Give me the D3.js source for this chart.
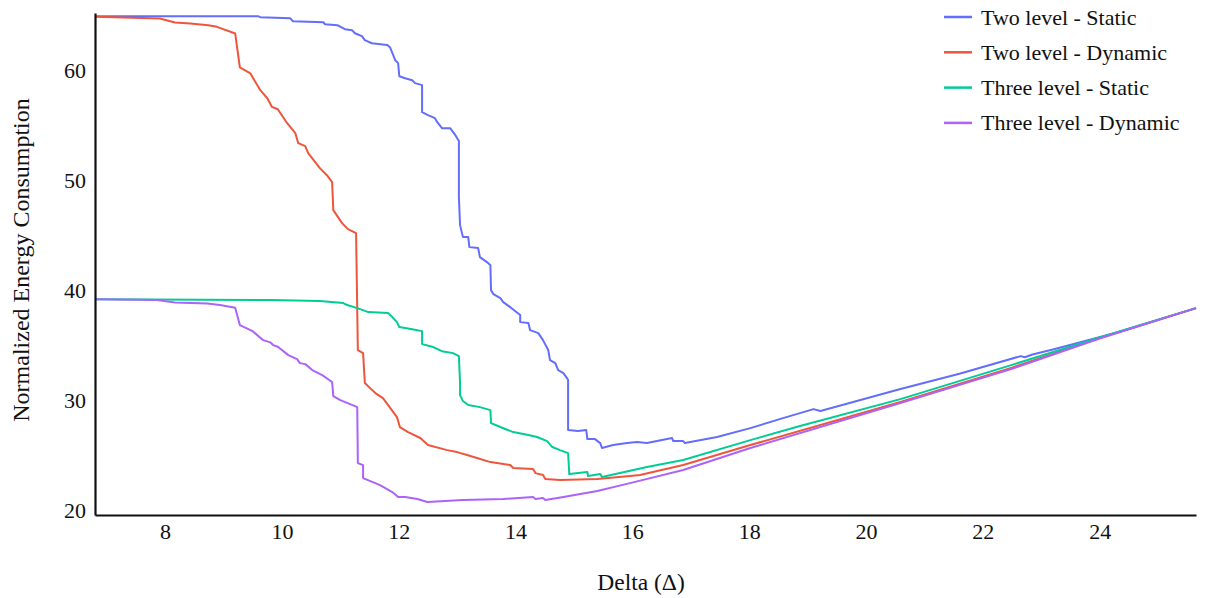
<!DOCTYPE html>
<html>
<head>
<meta charset="utf-8">
<script src="https://cdn.jsdelivr.net/npm/d3@7"></script>
<style>
  body { margin: 0; background: #fff; }
  text { font-family: "Liberation Serif", "Times New Roman", serif; }
</style>
</head>
<body>
<div id="chart"></div>
<script>
const WIDTH = 1205, HEIGHT = 598;
const margin = {top: 13, right: 9, bottom: 83, left: 95};

var seriesNames = ["Two level - Static", "Two level - Dynamic", "Three level - Static", "Three level - Dynamic"];
var seriesColors = ["#636efa", "#EF553B", "#00cc96", "#ab63fa"];
var xTicks = [8, 10, 12, 14, 16, 18, 20, 22, 24];
var yTicks = [20, 30, 40, 50, 60];

// [delta, energy]
var twoLevelStatic = [[6.80,64.91],[9.59,64.91],[9.63,64.82],[10.14,64.73],[10.19,64.45],[10.71,64.36],[10.74,64.18],
  [10.95,64.09],[11.08,63.73],[11.20,63.64],[11.25,63.36],[11.37,63.09],[11.42,62.73],[11.54,62.45],[11.80,62.3],
  [11.85,62.09],[11.94,60.91],[11.99,60.64],[12.01,59.45],[12.11,59.27],[12.23,59.09],[12.28,58.82],[12.40,58.64],
  [12.40,56.18],[12.50,55.91],[12.62,55.64],[12.66,55.27],[12.74,54.73],[12.88,54.73],[12.97,54.09],[13.03,53.55],
  [13.03,48.45],[13.05,45.91],[13.10,44.82],[13.19,44.82],[13.21,43.91],[13.36,43.82],[13.39,43.0],[13.51,42.55],
  [13.57,42.27],[13.58,40.0],[13.62,39.64],[13.74,39.27],[13.79,38.91],[13.91,38.45],[14.08,37.73],[14.08,37.09],
  [14.22,37.0],[14.25,36.36],[14.39,36.09],[14.47,35.45],[14.56,34.55],[14.59,33.64],[14.68,33.36],[14.73,32.73],
  [14.82,32.45],[14.88,32.0],[14.90,31.82],[14.90,27.27],[15.07,27.18],[15.21,27.27],[15.23,26.45],[15.36,26.45],
  [15.45,26.09],[15.48,25.64],[15.67,25.91],[15.91,26.09],[16.08,26.18],[16.25,26.09],[16.68,26.55],[16.70,26.27],
  [16.87,26.27],[16.90,26.09],[17.45,26.64],[18.02,27.45],[18.58,28.36],[19.10,29.18],[19.22,29.0],[20.59,31.0],
  [21.6,32.4],[22.65,34.0],[22.72,33.9],[22.85,34.15],[23.2,34.6],[24.3,36.15],[25.65,38.36]];

var twoLevelDynamic = [[6.80,64.85],[7.91,64.7],[8.17,64.34],[8.43,64.25],[8.74,64.09],[8.89,63.94],[9.20,63.34],
  [9.28,60.25],[9.46,59.7],[9.63,58.18],[9.75,57.45],[9.83,56.66],[9.93,56.45],[10.09,55.18],[10.23,54.27],
  [10.28,53.36],[10.40,53.09],[10.45,52.45],[10.65,51.09],[10.77,50.45],[10.86,49.82],[10.88,47.27],[11.03,46.09],
  [11.13,45.55],[11.27,45.18],[11.30,34.55],[11.39,34.27],[11.42,31.55],[11.51,31.09],[11.60,30.64],[11.73,30.18],
  [11.97,28.45],[12.02,27.55],[12.16,27.09],[12.37,26.55],[12.50,25.91],[12.83,25.45],[13.0,25.27],[13.17,25.0],
  [13.34,24.73],[13.57,24.36],[13.91,24.09],[13.96,23.82],[14.30,23.73],[14.34,23.36],[14.47,23.18],[14.51,22.82],
  [14.76,22.73],[15.40,22.82],[15.96,23.09],[16.13,23.18],[16.87,24.09],[18.02,25.91],[20.59,29.82],[22.5,32.95],
  [24.0,35.65],[25.65,38.36]];

var threeLevelStatic = [[6.80,39.18],[9.80,39.09],[10.65,39.0],[11.05,38.82],[11.12,38.64],[11.29,38.36],[11.48,38.0],
  [11.82,37.91],[11.89,37.55],[11.97,37.09],[12.01,36.64],[12.23,36.45],[12.40,36.27],[12.40,35.09],[12.59,34.82],
  [12.74,34.45],[12.93,34.27],[13.03,34.0],[13.05,31.55],[13.05,30.45],[13.10,29.91],[13.19,29.55],[13.39,29.36],
  [13.57,29.09],[13.58,27.91],[13.74,27.55],[13.96,27.09],[14.22,26.82],[14.37,26.64],[14.54,26.27],[14.63,25.73],
  [14.76,25.45],[14.90,25.18],[14.92,23.27],[15.23,23.45],[15.24,23.09],[15.45,23.27],[15.48,23.0],[16.25,23.91],
  [16.87,24.55],[18.02,26.36],[18.87,27.64],[20.59,30.09],[22.5,33.2],[24.0,35.7],[25.65,38.36]];

var threeLevelDynamic = [[6.80,39.18],[7.86,39.09],[8.17,38.88],[8.72,38.79],[8.94,38.64],[9.20,38.39],[9.28,36.82],
  [9.49,36.30],[9.68,35.45],[9.80,35.25],[9.85,35.0],[9.93,34.85],[10.11,34.09],[10.26,33.73],[10.31,33.36],
  [10.40,33.27],[10.52,32.73],[10.69,32.27],[10.86,31.64],[10.88,30.36],[11.0,30.0],[11.25,29.45],[11.29,29.36],
  [11.30,24.27],[11.39,24.09],[11.39,22.91],[11.68,22.27],[11.89,21.64],[11.99,21.18],[12.11,21.18],[12.32,21.0],
  [12.49,20.73],[13.10,20.91],[13.79,21.0],[14.30,21.18],[14.34,21.0],[14.47,21.09],[14.51,20.91],[14.82,21.18],
  [15.40,21.73],[15.96,22.45],[16.87,23.64],[18.02,25.64],[20.59,29.73],[22.5,32.85],[24.0,35.6],[25.65,38.36]];

var allSeries = [twoLevelStatic, twoLevelDynamic, threeLevelStatic, threeLevelDynamic];

let svg = d3.select("#chart")
    .append("svg")
    .attr("width", WIDTH)
    .attr("height", HEIGHT);

let x = d3.scaleLinear()
    .domain([6.8, 25.65])
    .range([margin.left, WIDTH - margin.right]);

let y = d3.scaleLinear()
    .domain([19.55, 65.2])
    .range([HEIGHT - margin.bottom, margin.top]);

let line = d3.line()
    .x(function(d) { return x(d[0]); })
    .y(function(d) { return y(d[1]); });

// lines
svg.append("g")
    .selectAll("path")
    .data(allSeries)
    .enter()
    .append("path")
    .attr("d", line)
    .attr("fill", "none")
    .attr("stroke", function(d, i) { return seriesColors[i]; })
    .attr("stroke-width", 2)
    .attr("stroke-linejoin", "round");

// x axis
let xAxis = svg.append("g")
    .attr("transform", `translate(0, ${HEIGHT - margin.bottom})`)
    .call(d3.axisBottom(x).tickValues(xTicks).tickSize(0).tickPadding(8));
xAxis.select(".domain").attr("stroke", "#111").attr("stroke-width", 2.2);
xAxis.selectAll("text").style("font-size", "22px").attr("fill", "#111").style("font-family", "Liberation Serif");

// y axis
let yAxis = svg.append("g")
    .attr("transform", `translate(${margin.left}, 0)`)
    .call(d3.axisLeft(y).tickValues(yTicks).tickSize(0).tickPadding(9));
yAxis.select(".domain").attr("stroke", "#111").attr("stroke-width", 2.2);
yAxis.selectAll("text").style("font-size", "22px").attr("fill", "#111").style("font-family", "Liberation Serif");

// axis titles
svg.append("text")
    .attr("transform", `translate(29, 260) rotate(-90)`)
    .style("text-anchor", "middle")
    .style("font-size", "24px")
    .attr("fill", "#111")
    .text("Normalized Energy Consumption");

svg.append("text")
    .attr("x", 641)
    .attr("y", 590)
    .style("text-anchor", "middle")
    .style("font-size", "23.5px")
    .attr("fill", "#111")
    .text("Delta (\u0394)");

// legend
let legend = svg.append("g")
    .selectAll("g")
    .data(seriesNames)
    .enter()
    .append("g")
    .attr("transform", function(d, i) { return `translate(944, ${17 + i * 35.3})`; });

legend.append("line")
    .attr("x1", 0).attr("x2", 28)
    .attr("y1", 0).attr("y2", 0)
    .attr("stroke", function(d, i) { return seriesColors[i]; })
    .attr("stroke-width", 2.5);

legend.append("text")
    .attr("x", 37)
    .attr("y", 7.5)
    .style("font-size", "22px")
    .attr("fill", "#111")
    .text(function(d) { return d; });
</script>
</body>
</html>
